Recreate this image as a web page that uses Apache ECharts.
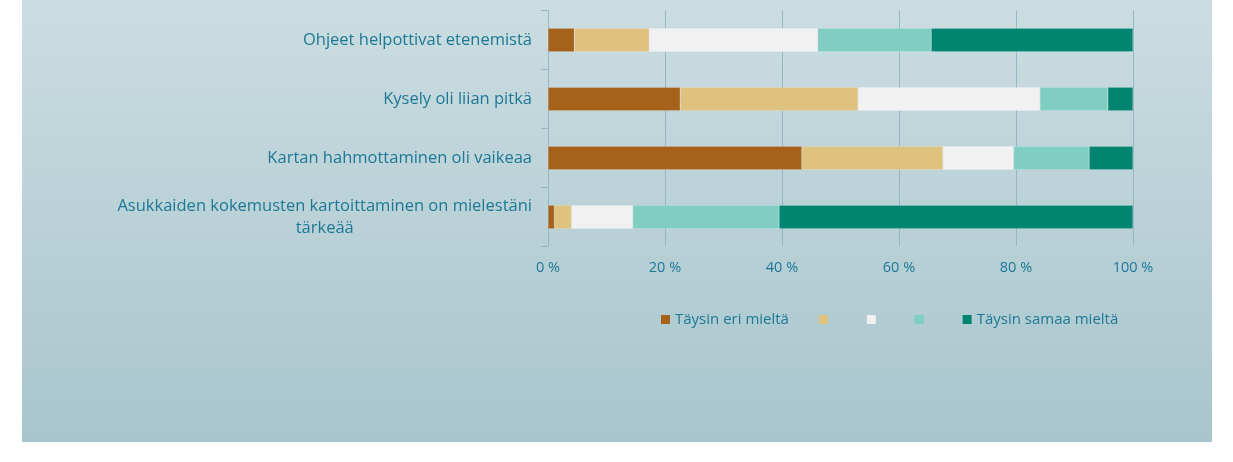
<!DOCTYPE html>
<html>
<head>
<meta charset="utf-8">
<script src="https://cdn.jsdelivr.net/npm/echarts@6/dist/echarts.min.js"></script>
<style>html,body{margin:0;padding:0;background:#fff}#c{width:1233px;height:462px}</style>
</head>
<body>
<div id="c"></div>
<script>
// Categories listed bottom -> top
var categories = [
  'Asukkaiden kokemusten kartoittaminen on mielestäni\ntärkeää',
  'Kartan hahmottaminen oli vaikeaa',
  'Kysely oli liian pitkä',
  'Ohjeet helpottivat etenemistä'
];
var seriesNames = ['Täysin eri mieltä', '2', '3', '4', 'Täysin samaa mieltä'];
var s1 = [1.1, 43.4, 22.6, 4.5];
var s2 = [2.9, 24.1, 30.4, 12.8];
var s3 = [10.5, 12.1, 31.1, 28.8];
var s4 = [25.0, 12.9, 11.6, 19.4];
var s5 = [60.5, 7.5, 4.3, 34.5];
var seriesValues = [s1, s2, s3, s4, s5];
var colors = ['#a6611a', '#dfc27d', '#f1f1f1', '#80cdc1', '#018571'];
var xTicks = [0, 20, 40, 60, 80, 100];

var txt = '#1d7896';
var chart = echarts.init(document.getElementById('c'));
chart.setOption({
  animation: false,
  graphic: [{
    type: 'rect', z: -10, silent: true,
    shape: {x: 22, y: 0, width: 1190, height: 442},
    style: {fill: new echarts.graphic.LinearGradient(0, 0, 0, 1, [
      {offset: 0, color: '#cbdde1'}, {offset: 1, color: '#a8c5cd'}
    ])}
  }],
  grid: {left: 548, right: 100, top: 10.5, bottom: 215.5},
  legend: {
    left: 656, top: 307, itemWidth: 9, itemHeight: 9, itemGap: 30,
    icon: 'rect',
    itemStyle: {borderWidth: 0},
    data: seriesNames,
    formatter: function (n) { return (n === '2' || n === '3' || n === '4') ? ' ' : n; },
    textStyle: {color: txt, fontFamily: 'Open Sans', fontSize: 15}
  },
  xAxis: {
    type: 'value', min: 0, max: 100, interval: 20,
    axisLine: {show: false},
    axisTick: {show: false},
    splitLine: {lineStyle: {color: '#97b6c2', width: 1}},
    axisLabel: {color: txt, fontFamily: 'Open Sans', fontSize: 14.5, margin: 14,
      formatter: function (v) { return xTicks.indexOf(v) >= 0 ? v + ' %' : ''; }}
  },
  yAxis: {
    type: 'category', data: categories,
    axisLine: {show: true, lineStyle: {color: '#97b6c2'}},
    axisTick: {show: true, length: 7, lineStyle: {color: '#97b6c2'}},
    axisLabel: {color: txt, fontFamily: 'Open Sans', fontSize: 16.5, margin: 16, lineHeight: 22,
      formatter: function (v) {
        return v.split('\n').map(function (l) { return '{c|' + l + '}'; }).join('\n');
      },
      rich: {c: {align: 'center', color: txt, fontFamily: 'Open Sans', fontSize: 16.5, lineHeight: 22}}
    }
  },
  series: seriesNames.map(function (n, i) {
    return {
      name: n, type: 'bar', stack: 'all', barWidth: '40%',
      itemStyle: {color: colors[i], borderColor: 'rgba(255,255,255,0.35)', borderWidth: 0.5},
      data: seriesValues[i]
    };
  })
});
</script>
</body>
</html>
